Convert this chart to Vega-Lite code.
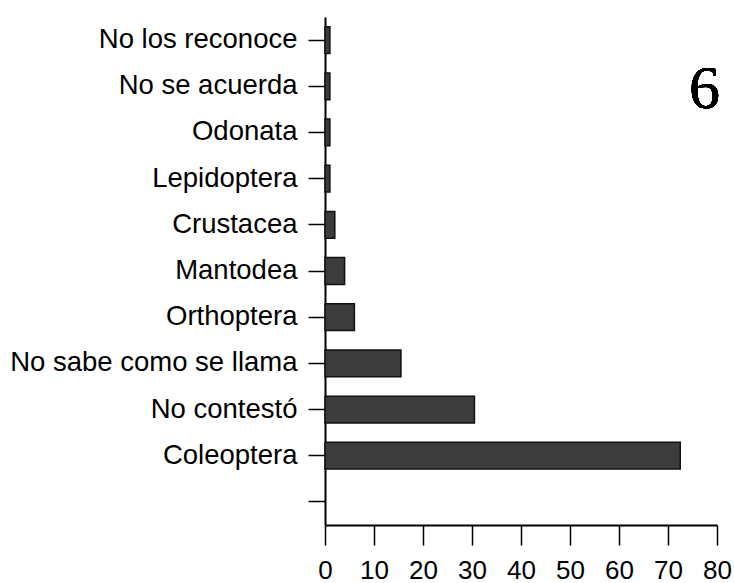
{
  "$schema": "https://vega.github.io/schema/vega-lite/v6.json",
  "width": 392,
  "height": 508,
  "autosize": "none",
  "padding": {"left": 325, "top": 17, "right": 17, "bottom": 58},
  "background": "white",
  "config": {"view": {"stroke": null}, "font": "Liberation Sans"},
  "data": {"values": [
    {"cat": "No los reconoce", "n": 1},
    {"cat": "No se acuerda", "n": 1},
    {"cat": "Odonata", "n": 1},
    {"cat": "Lepidoptera", "n": 1},
    {"cat": "Crustacea", "n": 2},
    {"cat": "Mantodea", "n": 4},
    {"cat": "Orthoptera", "n": 6},
    {"cat": "No sabe como se llama", "n": 15.5},
    {"cat": "No contestó", "n": 30.5},
    {"cat": "Coleoptera", "n": 72.5}
  ]},
  "layer": [
    {
      "mark": {"type": "bar", "fill": "#3c3c3c", "stroke": "#111", "strokeWidth": 1.5},
      "encoding": {
        "y": {"field": "cat", "type": "nominal", "sort": null,
          "scale": {"domain": ["No los reconoce", "No se acuerda", "Odonata", "Lepidoptera", "Crustacea", "Mantodea", "Orthoptera", "No sabe como se llama", "No contestó", "Coleoptera", " "], "paddingInner": 0.42, "paddingOuter": 0.21},
          "axis": {"title": null, "domainColor": "black", "domainWidth": 2, "tickColor": "black", "tickWidth": 1.5, "tickSize": 17, "labelPadding": 11, "labelFontSize": 27.5, "labelColor": "black", "labelFont": "Liberation Sans", "labelLimit": 0}
        },
        "x": {"field": "n", "type": "quantitative",
          "scale": {"domain": [0, 80], "nice": false},
          "axis": {"title": null, "values": [0, 10, 20, 30, 40, 50, 60, 70, 80], "grid": false, "domainColor": "black", "domainWidth": 2, "tickColor": "black", "tickWidth": 1.5, "tickSize": 20, "labelPadding": 12, "labelFontSize": 26, "labelColor": "black", "labelFont": "Liberation Sans", "labelFlush": false}
        }
      }
    },
    {
      "mark": {"type": "text", "font": "Liberation Serif", "fontSize": 62, "align": "right", "baseline": "middle", "color": "black", "dx": 3, "dy": 3},
      "encoding": {
        "x": {"datum": 80, "type": "quantitative"},
        "y": {"datum": "No se acuerda", "type": "nominal"},
        "text": {"value": "6"}
      }
    }
  ]
}
